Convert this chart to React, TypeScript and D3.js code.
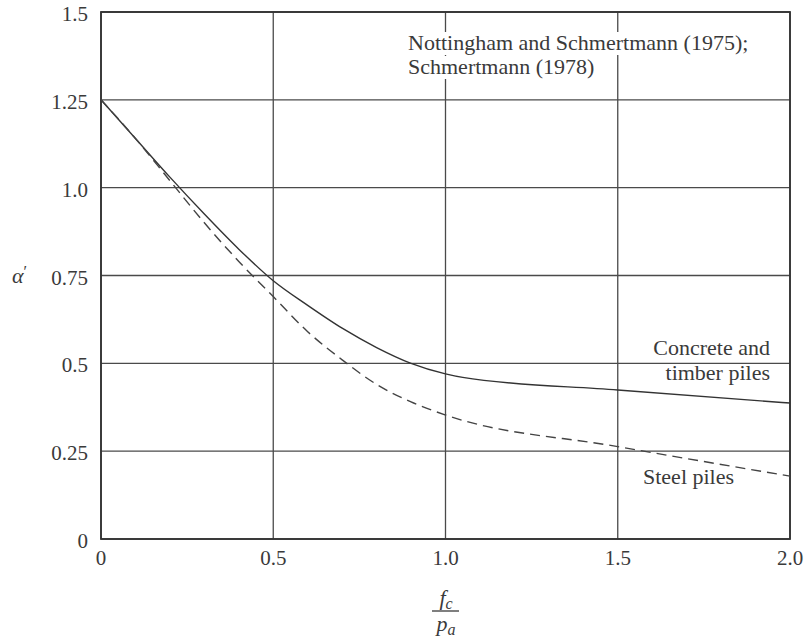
import React, { useEffect, useRef } from "react";
import * as d3 from "d3";

const xTicks = [0, 0.5, 1.0, 1.5, 2.0];
const xTickLabels = ["0", "0.5", "1.0", "1.5", "2.0"];
const yTicks = [0, 0.25, 0.5, 0.75, 1.0, 1.25, 1.5];
const yTickLabels = ["0", "0.25", "0.5", "0.75", "1.0", "1.25", "1.5"];

const concreteX = [0, 0.1, 0.2, 0.3, 0.4, 0.5, 0.6, 0.7, 0.8, 0.9, 1.0, 1.05, 1.5, 2.0];
const concreteY = [1.25, 1.14, 1.03, 0.925, 0.825, 0.735, 0.665, 0.6, 0.545, 0.5, 0.47, 0.46, 0.424, 0.387];

const steelX = [0, 0.1, 0.2, 0.3, 0.4, 0.5, 0.6, 0.7, 0.8, 0.9, 1.0, 1.5, 2.0];
const steelY = [1.25, 1.14, 1.02, 0.9, 0.79, 0.69, 0.59, 0.51, 0.44, 0.39, 0.353, 0.263, 0.179];

const sourceLines = ["Nottingham and Schmertmann (1975);", "Schmertmann (1978)"];
const concreteLabel = ["Concrete and", "timber piles"];
const steelLabel = "Steel piles";

const W = 806;
const H = 640;
const FONT = "Liberation Serif, DejaVu Serif, Noto Serif, Times, serif";
const INK = "#3a3a3a";

export default function App() {
  const ref = useRef<SVGSVGElement | null>(null);

  useEffect(() => {
    const svg = d3.select(ref.current);
    svg.selectAll("*").remove();

    const x = d3.scaleLinear().domain([0, 2]).range([101, 790]);
    const y = d3.scaleLinear().domain([0, 1.5]).range([539, 12]);

    svg.append("rect").attr("width", W).attr("height", H).attr("fill", "#fff");

    const g = svg.append("g").style("font-family", FONT);

    g.selectAll(".vg")
      .data(xTicks)
      .enter()
      .append("line")
      .attr("x1", (d) => x(d))
      .attr("x2", (d) => x(d))
      .attr("y1", y(0))
      .attr("y2", y(1.5))
      .attr("stroke", "#4a4a4a")
      .attr("stroke-width", 1.3);
    g.selectAll(".hg")
      .data(yTicks)
      .enter()
      .append("line")
      .attr("x1", x(0))
      .attr("x2", x(2))
      .attr("y1", (d) => y(d))
      .attr("y2", (d) => y(d))
      .attr("stroke", "#4a4a4a")
      .attr("stroke-width", 1.3);

    g.append("rect")
      .attr("x", x(0))
      .attr("y", y(1.5))
      .attr("width", x(2) - x(0))
      .attr("height", y(0) - y(1.5))
      .attr("fill", "none")
      .attr("stroke", "#333")
      .attr("stroke-width", 1.8);

    const srcG = g.append("g");
    sourceLines.forEach((t, i) => {
      const tx = srcG
        .append("text")
        .attr("x", 408)
        .attr("y", 50 + i * 24)
        .style("font-family", FONT)
        .attr("font-size", 22)
        .attr("fill", INK)
        .text(t);
      const node = tx.node() as SVGTextElement;
      const bb = node.getBBox();
      srcG
        .insert("rect", "text")
        .attr("x", bb.x - 3)
        .attr("y", bb.y + 2)
        .attr("width", bb.width + 6)
        .attr("height", bb.height - 2)
        .attr("fill", "#fff");
    });

    const line = d3
      .line<[number, number]>()
      .x((d) => x(d[0]))
      .y((d) => y(d[1]))
      .curve(d3.curveMonotoneX);

    const concrete: [number, number][] = concreteX.map((v, i) => [v, concreteY[i]]);
    const steel: [number, number][] = steelX.map((v, i) => [v, steelY[i]]);

    g.append("path")
      .attr("d", line(concrete) || "")
      .attr("fill", "none")
      .attr("stroke", "#333")
      .attr("stroke-width", 1.4);
    g.append("path")
      .attr("d", line(steel) || "")
      .attr("fill", "none")
      .attr("stroke", "#444")
      .attr("stroke-width", 1.4)
      .attr("stroke-dasharray", "10,6");

    concreteLabel.forEach((t, i) => {
      g.append("text")
        .attr("x", 770)
        .attr("y", 355 + i * 25)
        .attr("text-anchor", "end")
        .style("font-family", FONT)
        .attr("font-size", 22)
        .attr("fill", INK)
        .text(t);
    });
    g.append("text")
      .attr("x", 643)
      .attr("y", 484)
      .style("font-family", FONT)
      .attr("font-size", 22)
      .attr("fill", INK)
      .text(steelLabel);

    g.selectAll(".yl")
      .data(yTicks)
      .enter()
      .append("text")
      .attr("x", 88)
      .attr("y", (d) => y(d) + 9)
      .attr("text-anchor", "end")
      .style("font-family", FONT)
      .attr("font-size", 21)
      .attr("fill", INK)
      .text((d, i) => yTickLabels[i]);

    g.selectAll(".xl")
      .data(xTicks)
      .enter()
      .append("text")
      .attr("x", (d) => x(d))
      .attr("y", 565)
      .attr("text-anchor", "middle")
      .style("font-family", FONT)
      .attr("font-size", 21)
      .attr("fill", INK)
      .text((d, i) => xTickLabels[i]);

    const ya = g
      .append("text")
      .attr("x", 12)
      .attr("y", 283)
      .style("font-family", FONT)
      .attr("font-size", 22)
      .attr("fill", INK);
    ya.append("tspan").attr("font-style", "italic").text("α");
    ya.append("tspan").attr("dy", -6).attr("font-size", 16).text("′");

    const cx = 446;
    const num = g
      .append("text")
      .attr("x", cx)
      .attr("y", 605)
      .attr("text-anchor", "middle")
      .style("font-family", FONT)
      .attr("font-size", 22)
      .attr("font-style", "italic")
      .attr("fill", INK);
    num.append("tspan").text("f");
    num.append("tspan").attr("font-size", 16).attr("dy", 4).text("c");
    g.append("line")
      .attr("x1", cx - 14)
      .attr("x2", cx + 13)
      .attr("y1", 611)
      .attr("y2", 611)
      .attr("stroke", INK)
      .attr("stroke-width", 1.3);
    const den = g
      .append("text")
      .attr("x", cx)
      .attr("y", 631)
      .attr("text-anchor", "middle")
      .style("font-family", FONT)
      .attr("font-size", 22)
      .attr("font-style", "italic")
      .attr("fill", INK);
    den.append("tspan").text("p");
    den.append("tspan").attr("font-size", 16).attr("dy", 4).text("a");
  }, []);

  return (
    <svg
      ref={ref}
      width={W}
      height={H}
      style={{ position: "absolute", left: 0, top: 0, display: "block" }}
    />
  );
}
